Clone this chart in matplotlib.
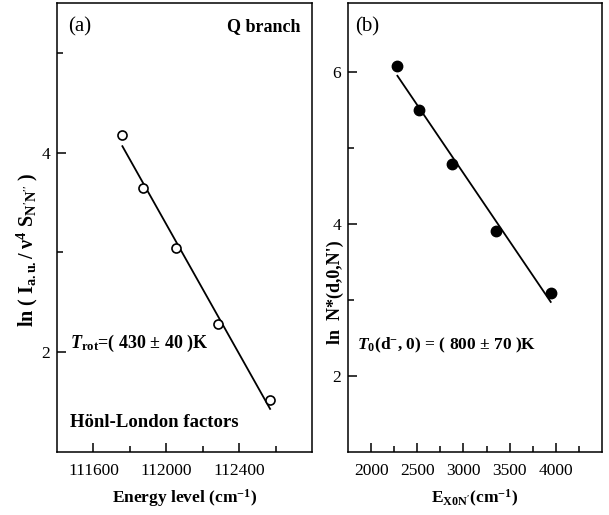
import numpy as np
import matplotlib
matplotlib.use("Agg")
import matplotlib.pyplot as plt
from matplotlib.ticker import FixedLocator

plt.rcParams['font.family'] = ['Liberation Serif', 'DejaVu Serif']
plt.rcParams['mathtext.fontset'] = 'custom'
plt.rcParams['mathtext.rm'] = 'Liberation Serif'
plt.rcParams['mathtext.bf'] = 'Liberation Serif:bold'
plt.rcParams['mathtext.it'] = 'Liberation Serif:italic'
plt.rcParams['mathtext.bfit'] = 'Liberation Serif:bold:italic'

# Panel (a): Q branch, Honl-London factors
energy_a = [111759, 111874, 112051, 112283, 112570]
lnI_a = [4.18, 3.65, 3.04, 2.28, 1.52]
xticks_a = [111600, 112000, 112400]
yticks_a = [2, 4]

# Panel (b)
energy_b = [2285, 2523, 2880, 3356, 3945]
lnN_b = [6.07, 5.49, 4.79, 3.90, 3.09]
xticks_b = [2000, 2500, 3000, 3500, 4000]
yticks_b = [2, 4, 6]

fig = plt.figure(figsize=(6.09, 5.15), dpi=100)
axa = fig.add_axes([0.0936, 0.1223, 0.4187, 0.8718])
axb = fig.add_axes([0.5714, 0.1223, 0.4171, 0.8718])

FS = 12.5

def style(ax):
    for s in ax.spines.values():
        s.set_linewidth(1.1)
    ax.tick_params(which='major', direction='in', length=6.5, width=1.1,
                   labelsize=FS, top=False, right=False)
    ax.tick_params(axis='x', which='major', pad=8)
    ax.tick_params(axis='y', which='major', pad=5)
    ax.tick_params(which='minor', direction='in', length=4, width=1.1,
                   top=False, right=False)

# Panel (a)
xa = np.array(energy_a, dtype=float)
ya = np.array(lnI_a)
pa = np.polyfit(xa, ya, 1)
xl = np.array([xa.min(), xa.max()])
axa.plot(xa, ya, 'o', mfc='white', mec='black', mew=1.2, ms=6.5, zorder=3)
axa.plot(xl, np.polyval(pa, xl), '-', color='black', lw=1.3)
axa.set_xlim(111400, 112800)
axa.set_ylim(1.0, 5.5)
axa.xaxis.set_major_locator(FixedLocator(xticks_a))
axa.xaxis.set_minor_locator(FixedLocator([111800, 112200, 112600]))
axa.yaxis.set_major_locator(FixedLocator(yticks_a))
axa.yaxis.set_minor_locator(FixedLocator([3, 5]))
style(axa)
axa.set_xlabel(r"Energy level (cm$^{\mathbf{-1}}$)", fontsize=FS, fontweight='bold', labelpad=6)
axa.set_ylabel(r"ln ( I$_{\mathbf{a.u.}}$/ ν$^{\mathbf{4}}$ S$_{\mathbf{N'N''}}$ )",
               fontsize=14.5, fontweight='bold')
axa.yaxis.set_label_coords(-0.065, 0.45)
axa.text(0.045, 0.947, "(a)", transform=axa.transAxes, fontsize=15, ha='left', va='center')
axa.text(0.955, 0.947, "Q branch", transform=axa.transAxes, fontsize=13,
         fontweight='bold', ha='right', va='center')
axa.text(0.05, 0.242, r"$\mathbfit{T}_{\mathbf{rot}}$=( 430 ± 40 )K", transform=axa.transAxes,
         fontsize=13, fontweight='bold', ha='left', va='center')
axa.text(0.05, 0.065, "Hönl-London factors", transform=axa.transAxes, fontsize=13.5,
         fontweight='bold', ha='left', va='center')

# Panel (b)
xb = np.array(energy_b, dtype=float)
yb = np.array(lnN_b)
pb = np.polyfit(xb, yb, 1)
xl = np.array([xb.min(), xb.max()])
axb.plot(xb, yb, 'o', mfc='black', mec='black', ms=7.5, zorder=3)
axb.plot(xl, np.polyval(pb, xl), '-', color='black', lw=1.3)
axb.set_xlim(1750, 4500)
axb.set_ylim(1.0, 6.9)
axb.xaxis.set_major_locator(FixedLocator(xticks_b))
axb.xaxis.set_minor_locator(FixedLocator([2250, 2750, 3250, 3750, 4250]))
axb.yaxis.set_major_locator(FixedLocator(yticks_b))
axb.yaxis.set_minor_locator(FixedLocator([3, 5]))
style(axb)
axb.set_xlabel(r"E$_{\mathbf{X0N'}}$(cm$^{\mathbf{-1}}$)", fontsize=FS, fontweight='bold', labelpad=6)
axb.set_ylabel(r"ln  N*(d,0,N')", fontsize=13, fontweight='bold')
axb.yaxis.set_label_coords(-0.015, 0.355)
axb.text(0.03, 0.947, "(b)", transform=axb.transAxes, fontsize=15, ha='left', va='center')
axb.text(0.035, 0.237, r"$\mathbfit{T}_{\mathbf{0}}$(d$^{\mathbf{-}}$, 0) = ( 800 ± 70 )K",
         transform=axb.transAxes, fontsize=12.5, fontweight='bold', ha='left', va='center')

fig.savefig("out.png", dpi=100)
